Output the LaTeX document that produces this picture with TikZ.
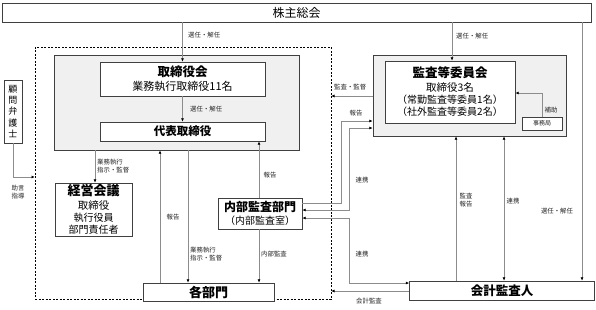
\documentclass[tikz,border=0pt]{standalone}
\usepackage{fontspec}
\setmainfont{Noto Sans CJK JP}
\usetikzlibrary{arrows.meta}
\definecolor{bordc}{HTML}{404040}
\definecolor{grayfill}{HTML}{F0F0F0}
\definecolor{linec}{HTML}{8C8C8C}
\definecolor{labc}{HTML}{262626}
\newcommand\tfont[1]{\fontsize{#1}{#1}\selectfont\bfseries}
\newcommand\sfont[2]{\fontsize{#1}{#2}\selectfont\mdseries}
\begin{document}
\begin{tikzpicture}[x=1pt,y=-1pt,
  box/.style={draw=bordc, line width=0.8pt, fill=white, inner sep=0pt, align=center, text=black},
  graybox/.style={draw=bordc, line width=0.8pt, fill=grayfill, inner sep=0pt},
  conn/.style={draw=linec, line width=0.7pt},
  arr/.style={-{Latex[length=3.2pt,width=3pt,color=black]}},
  darr/.style={{Latex[length=3.2pt,width=3pt,color=black]}-{Latex[length=3.2pt,width=3pt,color=black]}},
  lab/.style={font=\fontsize{6.4}{8}\selectfont, text=labc, inner sep=0pt, align=left},
]
\useasboundingbox (0,0) rectangle (596,309);
\fill[white] (0,0) rectangle (596,309);

% dashed frame
\node[draw=black, line width=0.6pt, dash pattern=on 2pt off 1.5pt, minimum width=296pt, minimum height=252pt, inner sep=0pt] (dash) at (183,173) {};

% top
\node[box, minimum width=589pt, minimum height=19pt, font=\fontsize{12}{14}\selectfont] (sh) at (296.5,12.5) {株主総会};

% board
\node[graybox, minimum width=245pt, minimum height=95pt] (g1) at (176.5,102.5) {};
\node[box, minimum width=165pt, minimum height=34pt] (tb) at (182.5,79) {\tfont{12.5}取締役会\\[2pt]\sfont{11}{13}業務執行取締役11名};
\node[box, minimum width=165pt, minimum height=19pt, font=\fontsize{11.5}{13}\selectfont\bfseries] (dh) at (182.5,131.5) {代表取締役};

% advisor
\node[box, minimum width=18pt, minimum height=63pt, font=\fontsize{9}{11.3}\selectfont] (kb) at (13,111.5) {顧\\問\\弁\\護\\士};

% audit committee
\node[graybox, minimum width=193pt, minimum height=81pt] (g2) at (469.5,95.5) {};
\node[box, minimum width=130pt, minimum height=62pt] (ka) at (450,92) {\tfont{12.5}監査等委員会\\[2pt]\sfont{10.5}{12.5}取締役3名\\（常勤監査等委員1名）\\（社外監査等委員2名）};
\node[box, minimum width=40pt, minimum height=13pt, font=\fontsize{6}{7}\selectfont, text=labc] (jm) at (542,123.5) {事務局};

% management meeting
\node[box, minimum width=77pt, minimum height=53pt] (kk) at (93.5,209.5) {\tfont{13}経営会議\\[2pt]\sfont{10.5}{12}取締役\\執行役員\\部門責任者};

% internal audit
\node[box, minimum width=84pt, minimum height=31pt] (nb) at (260,213.5) {\tfont{12}内部監査部門\\[1pt]\sfont{10}{12}（内部監査室）};

% departments
\node[box, minimum width=131pt, minimum height=18pt, font=\fontsize{13}{14}\selectfont\bfseries] (kbm) at (208.5,292) {各部門};

% accounting auditor
\node[box, minimum width=185pt, minimum height=19pt, font=\fontsize{12.5}{14}\selectfont\bfseries] (ak) at (502,290.5) {会計監査人};

% connectors
\draw[conn,arr] (sh.south -| tb.north) -- (tb.north);
\node[lab, anchor=west] at (188,35) {選任・解任};
\draw[conn,arr] (tb.south) -- (dh.north);
\node[lab, anchor=west] at (190,109) {選任・解任};
\draw[conn,arr] (452,0 |- sh.south) -- (452,0 |- ka.north);
\node[lab, anchor=west] at (456,36) {選任・解任};

\draw[conn,arr] (g2.west |- 0,96) -- (dash.east |- 0,96);
\node[lab, anchor=west] at (334,87) {監査・監督};

\draw[conn,arr] (nb.east |- 0,203) -| (341,121) -- (g2.west |- 0,121);
\node[lab] at (356,113) {報告};
\draw[conn,darr] (nb.east |- 0,210) -| (349,128) -- (g2.west |- 0,128);
\node[lab] at (362,180) {連携};
\draw[conn,darr] (nb.east |- 0,218) -| (349,283) -- (ak.west |- 0,283);
\node[lab] at (362,254) {連携};

\draw[conn,arr] (ak.west |- 0,291) -- (dash.east |- 0,291);
\node[lab] at (369,301) {会計監査};

\draw[conn,arr] (456,0 |- ak.north) -- (456,0 |- g2.south);
\node[lab, align=center] at (466,200) {監査\\報告};
\draw[conn,darr] (504,0 |- g2.south) -- (504,0 |- ak.north);
\node[lab] at (513,201) {連携};
\draw[conn,arr] (582,0 |- sh.south) -- (582,0 |- ak.north);
\node[lab] at (557,211) {選任・解任};

\draw[conn,arr] (jm.north) |- (ka.east |- 0,93);
\node[lab] at (551,110) {補助};

\draw[conn,arr] (kb.south) |- (dash.west |- 0,177);
\node[lab, align=center] at (18,192) {助言\\指導};

\draw[conn,arr] (95,0 |- g1.south) -- (95,0 |- kk.north);
\node[lab, anchor=west] at (97,166) {業務執行\\指示・監督};

\draw[conn,arr] (160,0 |- kbm.north) -- (160,0 |- g1.south);
\node[lab] at (173,217) {報告};

\draw[conn,arr] (188,0 |- g1.south) -- (188,0 |- kbm.north);
\node[lab, anchor=west] at (190,254) {業務執行\\指示・監督};

\draw[conn,arr] (259,0 |- nb.north) -- (259,0 |- dh.south);
\node[lab] at (270,175) {報告};

\draw[conn,arr] (259,0 |- nb.south) -- (259,0 |- kbm.north);
\node[lab, anchor=west] at (261,254) {内部監査};
\end{tikzpicture}
\end{document}
